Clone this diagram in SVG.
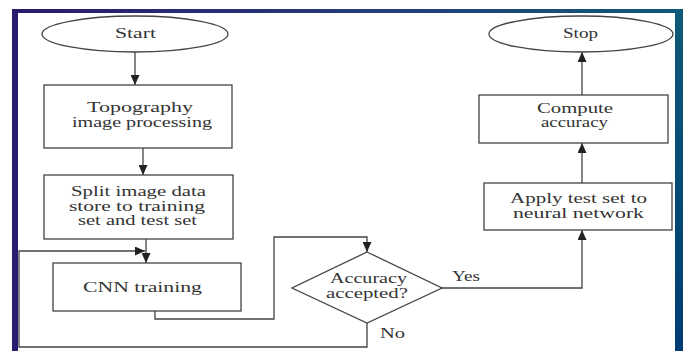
<svg xmlns="http://www.w3.org/2000/svg" width="683" height="351" viewBox="0 0 683 351">
  <defs>
    <linearGradient id="topband" x1="0" y1="0" x2="1" y2="0">
      <stop offset="0" stop-color="#2a1a6c"/>
      <stop offset="0.5" stop-color="#263a7a"/>
      <stop offset="1" stop-color="#0f5a78"/>
    </linearGradient>
    <linearGradient id="rightband" x1="0" y1="0" x2="0" y2="1">
      <stop offset="0" stop-color="#0f5a78"/>
      <stop offset="1" stop-color="#003c72"/>
    </linearGradient>
    <marker id="arr" markerUnits="userSpaceOnUse" markerWidth="11" markerHeight="9" refX="10" refY="4.5" orient="auto">
      <path d="M0,0 L10,4.5 L0,9 z" fill="#222"/>
    </marker>
  </defs>
  <style>
    .shape { fill: #ffffff; stroke: #444; stroke-width: 1.3; }
    .conn { fill: none; stroke: #444; stroke-width: 1.3; }
    .t { font-family: "Liberation Serif", "DejaVu Serif", serif; font-size: 14px; fill: #333; }
    .c { text-anchor: middle; }
  </style>

  <rect x="0" y="0" width="683" height="351" fill="#ffffff"/>
  <g id="frame">
    <rect x="12" y="9" width="671" height="4" fill="url(#topband)"/>
    <rect x="12" y="9" width="6" height="342" fill="#2b1a6e"/>
    <rect x="675" y="9" width="8" height="342" fill="url(#rightband)"/>
  </g>

  <g id="connectors">
    <path class="conn" d="M135,52 V85" marker-end="url(#arr)"/>
    <path class="conn" d="M143,148 V175" marker-end="url(#arr)"/>
    <path class="conn" d="M146,239 V263" marker-end="url(#arr)"/>
    <path class="conn" d="M367,323 V347 H19 V251 H145" marker-end="url(#arr)"/>
    <path class="conn" d="M155,311 V319 H274 V237 H367 V252" marker-end="url(#arr)"/>
    <path class="conn" d="M442,288 H582 V230" marker-end="url(#arr)"/>
    <path class="conn" d="M582,183 V143" marker-end="url(#arr)"/>
    <path class="conn" d="M582,95 V52" marker-end="url(#arr)"/>
  </g>

  <g id="start">
    <ellipse class="shape" cx="135" cy="34" rx="93" ry="18"/>
    <text class="t c" font-family="Liberation Serif, serif" x="135.5" y="38" textLength="41" lengthAdjust="spacingAndGlyphs">Start</text>
  </g>
  <g id="topography">
    <rect class="shape" x="44" y="85" width="188" height="63"/>
    <text class="t c" x="140" y="112" textLength="106" lengthAdjust="spacingAndGlyphs">Topography</text>
    <text class="t c" x="142" y="127" textLength="140" lengthAdjust="spacingAndGlyphs">image processing</text>
  </g>
  <g id="split">
    <rect class="shape" x="44" y="175" width="189" height="64"/>
    <text class="t c" x="138.5" y="196" textLength="135" lengthAdjust="spacingAndGlyphs">Split image data</text>
    <text class="t c" x="137" y="211" textLength="136" lengthAdjust="spacingAndGlyphs">store to training</text>
    <text class="t c" x="137.5" y="225" textLength="119" lengthAdjust="spacingAndGlyphs">set and test set</text>
  </g>
  <g id="cnn">
    <rect class="shape" x="53" y="263" width="188" height="48"/>
    <text class="t c" x="142.5" y="292" textLength="119" lengthAdjust="spacingAndGlyphs">CNN training</text>
  </g>
  <g id="decision">
    <polygon class="shape" points="367,252 442,288 367,323 292,288"/>
    <text class="t c" x="368.5" y="283" textLength="77" lengthAdjust="spacingAndGlyphs">Accuracy</text>
    <text class="t c" x="367" y="298" textLength="82" lengthAdjust="spacingAndGlyphs">accepted?</text>
  </g>
  <g id="labels">
    <text class="t" x="452" y="281" textLength="28" lengthAdjust="spacingAndGlyphs">Yes</text>
    <text class="t" x="380" y="338" textLength="25" lengthAdjust="spacingAndGlyphs">No</text>
  </g>
  <g id="apply">
    <rect class="shape" x="484" y="183" width="188" height="47"/>
    <text class="t c" x="578.5" y="203" textLength="137" lengthAdjust="spacingAndGlyphs">Apply test set to</text>
    <text class="t c" x="578.5" y="218" textLength="131" lengthAdjust="spacingAndGlyphs">neural network</text>
  </g>
  <g id="compute">
    <rect class="shape" x="479" y="95" width="189" height="48"/>
    <text class="t c" x="575" y="113" textLength="76" lengthAdjust="spacingAndGlyphs">Compute</text>
    <text class="t c" x="574.5" y="127" textLength="67" lengthAdjust="spacingAndGlyphs">accuracy</text>
  </g>
  <g id="stop">
    <ellipse class="shape" cx="581" cy="34" rx="92" ry="18"/>
    <text class="t c" x="580.5" y="38" textLength="35" lengthAdjust="spacingAndGlyphs">Stop</text>
  </g>
</svg>
